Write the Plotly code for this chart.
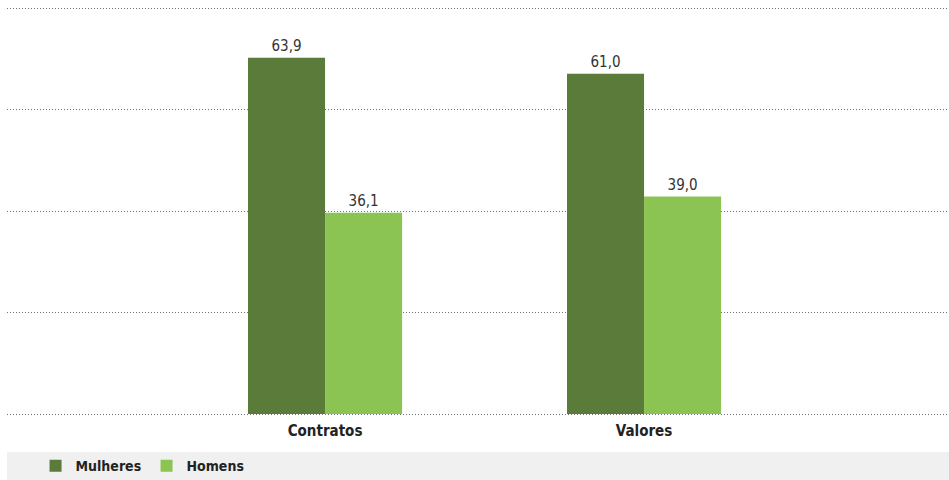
import plotly.graph_objects as go

categories = ["Contratos", "Valores"]
mulheres = [63.9, 61.0]
homens = [36.1, 39.0]
mulheres_labels = ["63,9", "61,0"]
homens_labels = ["36,1", "39,0"]
series_names = ["Mulheres", "Homens"]

FONT = "DejaVu Sans Condensed, Liberation Sans Narrow, sans-serif"
DARK = "#5a7b39"
LIGHT = "#8cc453"

fig = go.Figure()
fig.add_trace(go.Bar(x=categories, y=mulheres, name=series_names[0], marker_color=DARK,
                     marker_line_width=0, text=mulheres_labels, textposition="outside",
                     textfont=dict(family=FONT, size=15, color="#333333"), cliponaxis=False))
fig.add_trace(go.Bar(x=categories, y=homens, name=series_names[1], marker_color=LIGHT,
                     marker_line_width=0, text=homens_labels, textposition="outside",
                     textfont=dict(family=FONT, size=15, color="#333333"), cliponaxis=False))

top = 72.8
pad = 3 * top / 406
fig.update_layout(
    width=949, height=480,
    margin=dict(l=7, r=0, t=5, b=63, autoexpand=False),
    paper_bgcolor="white", plot_bgcolor="white",
    barmode="group", bargap=0.517, bargroupgap=0,
    font=dict(family=FONT, color="#222222"),
    xaxis=dict(range=[-0.997, 1.956], showgrid=False, zeroline=False, showline=False,
               ticks="", ticklabelstandoff=3,
               tickfont=dict(family=FONT, size=15, color="#222222", weight="bold")),
    yaxis=dict(range=[-pad, top + pad], tickvals=[0, top / 4, top / 2, 3 * top / 4, top],
               showticklabels=False, showgrid=True, gridcolor="#707070", griddash="1px,2px",
               gridwidth=1, zeroline=False, showline=False),
    showlegend=True,
    legend=dict(orientation="h", x=0.0303, xanchor="left", y=-0.119, yanchor="middle",
                bgcolor="rgba(0,0,0,0)", font=dict(family=FONT, size=14, color="#222222", weight="bold"),
                entrywidth=66, entrywidthmode="pixels", traceorder="normal"),
    shapes=[dict(type="rect", xref="paper", yref="paper", x0=0, x1=1, y0=-0.2, y1=-0.0850,
                 fillcolor="#eff0ef", line_width=0, layer="below")],
)

fig.write_html("out.html", config={"responsive": False, "displayModeBar": False},
               post_script="document.body.style.margin='0';")
